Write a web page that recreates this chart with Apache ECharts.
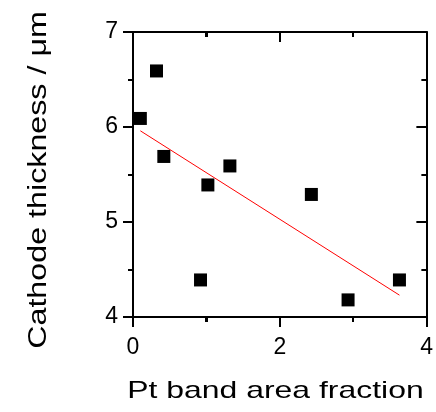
<!DOCTYPE html>
<html>
<head>
<meta charset="utf-8">
<script src="https://cdn.jsdelivr.net/npm/echarts@6/dist/echarts.min.js"></script>
<style>
html,body{margin:0;padding:0;background:#fff;}
#c{width:436px;height:412px;}
</style>
</head>
<body>
<div id="c"></div>
<script>
var xValues = [0.10, 0.32, 0.42, 0.92, 1.02, 1.32, 2.43, 2.93, 3.63];
var yValues = [6.09, 6.59, 5.69, 4.39, 5.39, 5.59, 5.29, 4.18, 4.39];
var fitX = [0.10, 3.63];
var fitY = [5.96, 4.23];
var xTicks = [0, 2, 4];
var xMinorTicks = [1, 3];
var yTicks = [4, 5, 6, 7];
var yMinorTicks = [4.5, 5.5, 6.5];
var xName = 'Pt band area fraction';
var yName = 'Cathode thickness / \u03bcm';

var FONT = 'Arial, sans-serif';
var chart = echarts.init(document.getElementById('c'));

var xMin = xTicks[0], xMax = xTicks[xTicks.length - 1];
var yMin = yTicks[0], yMax = yTicks[yTicks.length - 1];
var scatterData = xValues.map(function (x, i) { return [x, yValues[i]]; });

// tick marks: [x, y, length, kind] (kind 0 = x-axis tick, 1 = y-axis tick)
var tickData = [];
xTicks.forEach(function (v) { tickData.push([v, yMin, 10, 0]); });
xMinorTicks.forEach(function (v) { tickData.push([v, yMin, 5, 0]); });
yTicks.forEach(function (v) { tickData.push([xMin, v, 10, 1]); });
yMinorTicks.forEach(function (v) { tickData.push([xMin, v, 5, 1]); });

function makeAxis(position, inside, showLabel, margin, min, max, interval) {
  return {
    type: 'value',
    position: position,
    min: min, max: max, interval: interval,
    axisLine: {show: true, onZero: false, lineStyle: {color: '#000', width: 2}},
    axisTick: {show: true, inside: inside, length: 10, lineStyle: {color: '#000', width: 2}},
    axisLabel: {show: showLabel, fontFamily: FONT, fontSize: 23, color: '#000', margin: margin},
    splitLine: {show: false},
    minorSplitLine: {show: false},
    minorTick: {show: true, splitNumber: 2, length: 5, lineStyle: {color: '#000', width: 2}}
  };
}

function renderTick(params, api) {
  var len = api.value(2);
  var kind = api.value(3);
  var st = {stroke: '#000', lineWidth: 2};
  var children = [];
  if (kind === 0) {
    var v = api.value(0);
    var pb = api.coord([v, yMin]);
    var pt = api.coord([v, yMax]);
    var x = Math.round(pb[0]);
    children.push({type: 'line', shape: {x1: x, y1: pb[1], x2: x, y2: pb[1] + len}, style: st});
    children.push({type: 'line', shape: {x1: x, y1: pt[1], x2: x, y2: pt[1] + len}, style: st});
  } else {
    var w = api.value(1);
    var pl = api.coord([xMin, w]);
    var pr = api.coord([xMax, w]);
    var y = Math.round(pl[1]);
    children.push({type: 'line', shape: {x1: pl[0] - len, y1: y, x2: pl[0], y2: y}, style: st});
    children.push({type: 'line', shape: {x1: pr[0] - len, y1: y, x2: pr[0], y2: y}, style: st});
  }
  return {type: 'group', children: children};
}

chart.setOption({
  animation: false,
  grid: {left: 133, top: 32, right: 8, bottom: 95},
  xAxis: [
    makeAxis('bottom', false, true, 19, xMin, xMax, 2),
    makeAxis('top', true, false, 8, xMin, xMax, 2)
  ],
  yAxis: [
    makeAxis('left', false, true, 15, yMin, yMax, 1),
    makeAxis('right', true, false, 8, yMin, yMax, 1)
  ],
  graphic: [
    {
      type: 'text', x: 275.5, y: 391.5, scaleX: 1.33,
      style: {text: xName, font: '24px ' + FONT, fill: '#000',
              align: 'center', verticalAlign: 'middle'}
    },
    {
      type: 'text', x: 39, y: 180, rotation: Math.PI / 2, scaleX: 1.29,
      style: {text: yName, font: '25px ' + FONT, fill: '#000',
              align: 'center', verticalAlign: 'middle'}
    }
  ],
  series: [
    {
      type: 'custom', data: tickData, renderItem: renderTick,
      encode: {x: 0, y: 1}, clip: false, silent: true, z: 5
    },
    {
      type: 'scatter', data: scatterData,
      symbol: 'rect', symbolSize: 13,
      itemStyle: {color: '#000', opacity: 1},
      markLine: {
        silent: true,
        symbol: ['none', 'none'],
        label: {show: false},
        lineStyle: {color: '#ff0000', width: 1, type: 'solid'},
        emphasis: {disabled: true},
        data: [[
          {coord: [fitX[0], fitY[0]]},
          {coord: [fitX[1], fitY[1]]}
        ]]
      }
    }
  ]
});
</script>
</body>
</html>
